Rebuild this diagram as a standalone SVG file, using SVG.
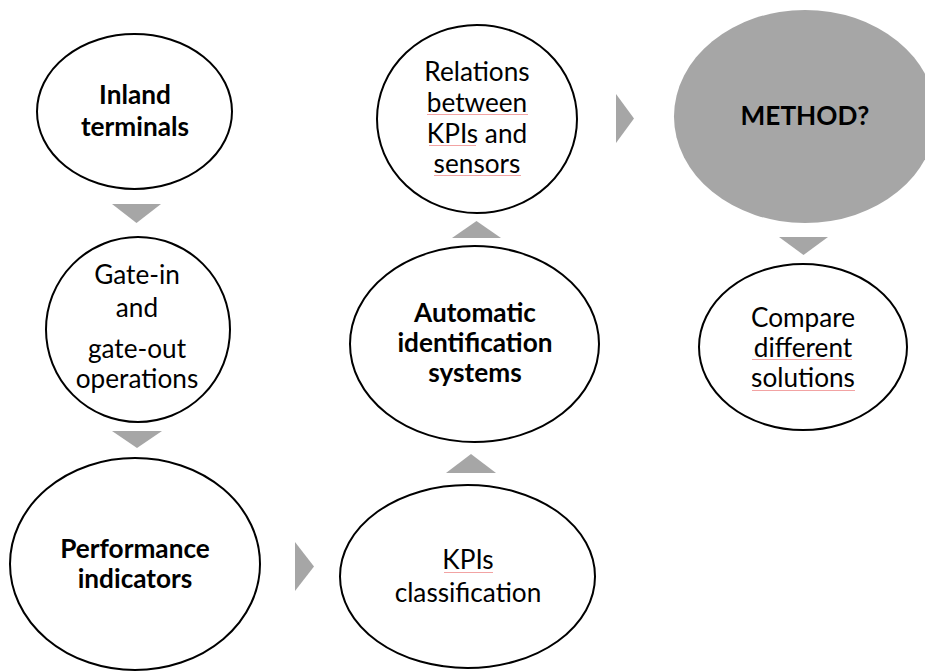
<svg xmlns="http://www.w3.org/2000/svg" width="925" height="671" viewBox="0 0 925 671">
<style>
.node{fill:#ffffff;stroke:#000000;stroke-width:2}
.dark{fill:#a6a6a6;stroke:none}
.arrow{fill:#a6a6a6;stroke:none}
text{font-family:Lato,"Open Sans","Liberation Sans",sans-serif;font-size:26.2px;fill:#000000;text-anchor:middle}
.b{font-weight:bold}
.sq{stroke:#f2a3a3;stroke-width:1;fill:none}
</style>
<rect x="0" y="0" width="925" height="671" fill="#ffffff"/>
<g id="connectors">
<polygon class="arrow" points="112,204 161,204 136.5,223"/>
<polygon class="arrow" points="112,431 162,431 137,448"/>
<polygon class="arrow" points="295,542 295,591 314,566.5"/>
<polygon class="arrow" points="446,473 496,473 471,454"/>
<polygon class="arrow" points="452,238 501,238 476.5,221"/>
<polygon class="arrow" points="616,94 616,143 634,118.5"/>
<polygon class="arrow" points="779,237 828,237 803.5,255"/>
</g>
<g id="inland">
<ellipse class="node" cx="134.5" cy="111.5" rx="97.5" ry="77.5"/>
<text class="b" x="135" y="104">Inland</text>
<text class="b" x="135" y="136">terminals</text>
</g>
<g id="gate">
<ellipse class="node" cx="138" cy="329.5" rx="92" ry="92.5"/>
<text x="137" y="284">Gate-in</text>
<text x="137" y="317">and</text>
<text x="137" y="358">gate-out</text>
<text x="137" y="388">operations</text>
</g>
<g id="performance">
<ellipse class="node" cx="135" cy="564" rx="125" ry="106"/>
<text class="b" x="135" y="558">Performance</text>
<text class="b" x="135" y="588">indicators</text>
</g>
<g id="kpis">
<ellipse class="node" cx="467.5" cy="576.5" rx="127.5" ry="91.5"/>
<text x="468" y="569">KPIs</text>
<text x="468" y="602">classification</text>
<line class="sq" x1="444" y1="572.5" x2="493" y2="572.5"/>
</g>
<g id="automatic">
<ellipse class="node" cx="474.5" cy="344" rx="124.5" ry="98"/>
<text class="b" x="475" y="322">Automatic</text>
<text class="b" x="475" y="352">identification</text>
<text class="b" x="475" y="382">systems</text>
</g>
<g id="relations">
<ellipse class="node" cx="477" cy="119" rx="100" ry="94"/>
<text x="477" y="81">Relations</text>
<text x="477" y="112">between</text>
<text x="477" y="143">KPIs and</text>
<text x="477" y="173">sensors</text>
<line class="sq" x1="427" y1="114.5" x2="528" y2="114.5"/>
<line class="sq" x1="429" y1="145.5" x2="476" y2="145.5"/>
<line class="sq" x1="434" y1="175.5" x2="521" y2="175.5"/>
</g>
<g id="method">
<ellipse class="dark" cx="805" cy="116.5" rx="131" ry="106.5"/>
<text class="b" x="805" y="125">METHOD?</text>
</g>
<g id="compare">
<ellipse class="node" cx="803" cy="347" rx="104" ry="83"/>
<text x="803" y="327">Compare</text>
<text x="803" y="357">different</text>
<text x="803" y="387">solutions</text>
<line class="sq" x1="752" y1="359.5" x2="852" y2="359.5"/>
<line class="sq" x1="752" y1="390.5" x2="855" y2="390.5"/>
</g>
</svg>
